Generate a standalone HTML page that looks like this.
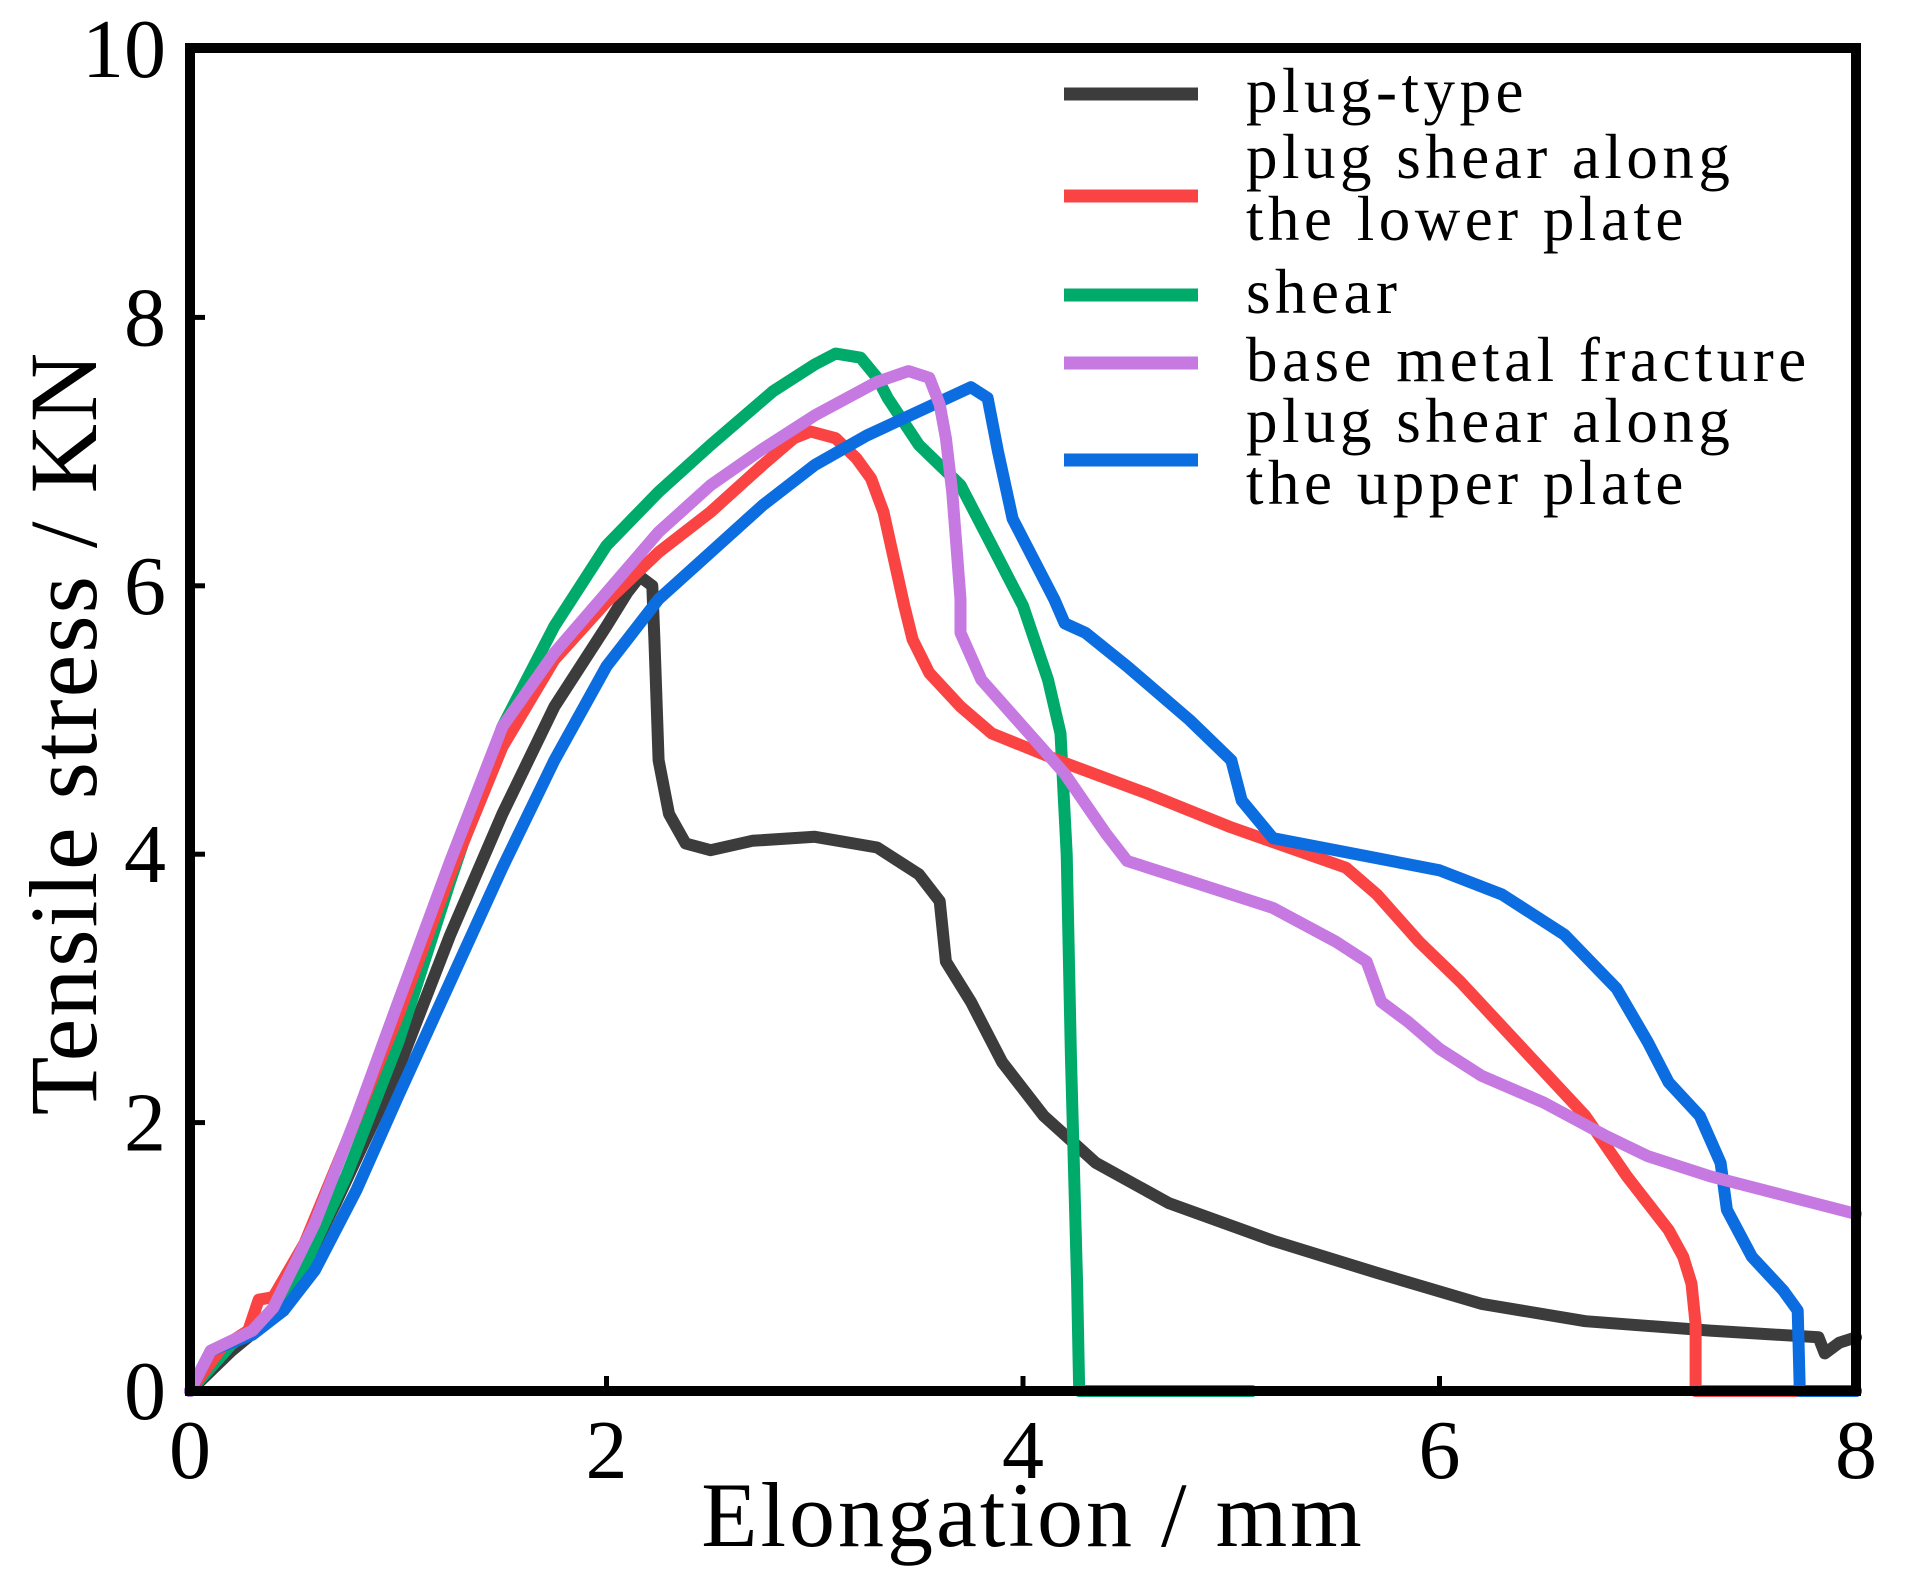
<!DOCTYPE html>
<html><head><meta charset="utf-8"><style>
html,body{margin:0;padding:0;background:#fff;}
svg{display:block;}
text{font-family:"Liberation Serif",serif;fill:#000;}
</style></head><body>
<svg id="chart" width="1907" height="1580" viewBox="0 0 1907 1580" xmlns="http://www.w3.org/2000/svg">
<g id="series"></g>
<rect x="190" y="48" width="1666" height="1343" fill="none" stroke="#000" stroke-width="10"/>
<g id="ticks"></g>
<text x="1033" y="1546" font-size="92" letter-spacing="3" text-anchor="middle">Elongation / mm</text>
<text transform="translate(96,733) rotate(-90)" font-size="96" letter-spacing="2" text-anchor="middle">Tensile stress / KN</text>
<g id="legend"></g>
</svg>
<script>
const xTicks=[0,2,4,6,8];
const yTicks=[0,2,4,6,8,10];
const seriesNames=["plug-type","plug shear along the lower plate","shear","base metal fracture","plug shear along the upper plate"];
const blackX=[0,.2,.45,.7,1.0,1.25,1.5,1.75,2.0,2.1,2.16,2.22,2.23,2.25,2.3,2.38,2.5,2.7,3.0,3.3,3.5,3.6,3.63,3.75,3.9,4.1,4.35,4.7,5.2,5.7,6.2,6.7,7.3,7.82,7.85,7.92,8];
const blackY=[0,.3,.62,1.4,2.4,3.4,4.3,5.1,5.7,5.95,6.07,6.0,5.6,4.7,4.3,4.08,4.03,4.1,4.13,4.05,3.85,3.65,3.2,2.9,2.45,2.05,1.7,1.4,1.12,.88,.65,.52,.45,.4,.28,.36,.4];
const redX=[0,.15,.28,.33,.4,.55,.75,1.0,1.25,1.5,1.75,2.0,2.25,2.5,2.75,2.9,2.98,3.1,3.2,3.27,3.33,3.38,3.43,3.47,3.55,3.7,3.85,4.2,4.6,5.0,5.55,5.7,5.9,6.1,6.4,6.7,6.9,7.1,7.17,7.21,7.23,7.23,8];
const redY=[0,.32,.45,.68,.7,1.1,1.85,2.8,3.85,4.8,5.45,5.88,6.25,6.55,6.9,7.1,7.15,7.1,6.95,6.8,6.55,6.2,5.85,5.6,5.35,5.1,4.9,4.68,4.45,4.2,3.9,3.7,3.35,3.05,2.55,2.05,1.6,1.2,1.0,.8,.5,0,0];
const greenX=[0,.2,.45,.75,1.0,1.25,1.5,1.75,2.0,2.25,2.5,2.8,3.0,3.1,3.22,3.3,3.35,3.5,3.7,3.85,4.0,4.12,4.18,4.21,4.23,4.26,4.27,5.1];
const greenY=[0,.35,.6,1.6,2.6,3.8,4.95,5.7,6.3,6.7,7.05,7.45,7.65,7.73,7.7,7.55,7.4,7.05,6.75,6.3,5.85,5.3,4.9,4.0,2.5,.8,0,0];
const purpleX=[0,.1,.3,.4,.6,.8,1.0,1.25,1.5,1.75,2.0,2.25,2.5,2.75,3.0,3.3,3.45,3.55,3.6,3.63,3.66,3.68,3.7,3.7,3.8,4.0,4.2,4.4,4.5,4.8,5.2,5.5,5.65,5.72,5.85,6.0,6.2,6.5,6.8,7.0,7.3,7.6,8.0];
const purpleY=[0,.3,.45,.62,1.25,2.05,2.9,3.95,4.95,5.5,5.95,6.4,6.75,7.02,7.27,7.52,7.6,7.55,7.35,7.1,6.7,6.3,5.9,5.65,5.3,4.95,4.6,4.15,3.95,3.8,3.6,3.35,3.2,2.9,2.75,2.55,2.35,2.15,1.9,1.75,1.6,1.48,1.32];
const blueX=[0,.1,.3,.45,.6,.8,1.0,1.25,1.5,1.75,2.0,2.25,2.5,2.75,3.0,3.25,3.5,3.75,3.83,3.88,3.95,4.05,4.15,4.2,4.3,4.5,4.8,5.0,5.05,5.2,5.6,6.0,6.3,6.6,6.85,7.0,7.1,7.25,7.35,7.38,7.5,7.65,7.72,7.73,8];
const blueY=[0,.3,.42,.6,.9,1.5,2.2,3.05,3.9,4.7,5.4,5.9,6.25,6.6,6.9,7.12,7.3,7.48,7.4,7.0,6.5,6.2,5.9,5.72,5.65,5.4,5.0,4.7,4.4,4.12,4.0,3.88,3.7,3.4,3.0,2.6,2.3,2.05,1.7,1.35,1.0,.75,.6,0,0];

const NS="http://www.w3.org/2000/svg";
const xS=v=>190+v*208.25;
const yS=v=>1391-v*134.2;
function mk(tag,attrs,parent){const e=document.createElementNS(NS,tag);for(const k in attrs)e.setAttribute(k,attrs[k]);parent.appendChild(e);return e;}
const tg=document.getElementById('ticks');
xTicks.forEach(t=>{
  if(t>0&&t<8){const l=mk('line',{x1:xS(t),x2:xS(t),y1:1391,y2:1376,stroke:'#000','stroke-width':5},tg);
  
  }
  const tx=mk('text',{x:xS(t),y:1478,'font-size':84,'text-anchor':'middle'},tg);tx.textContent=t;
  
  
});
yTicks.forEach(t=>{
  if(t>0&&t<10){const l=mk('line',{x1:190,x2:205,y1:yS(t),y2:yS(t),stroke:'#000','stroke-width':5},tg);
  
  }
  const tx=mk('text',{x:166,y:yS(t)+28,'font-size':84,'text-anchor':'end'},tg);tx.textContent=t;
  
  
});
const sg=document.getElementById('series');
const all=[[blackX,blackY,'#3c3c3c','plug-type-line'],[greenX,greenY,'#00aa6a','shear-line'],[redX,redY,'#fa4444','lower-plate-line'],[blueX,blueY,'#0b6de0','upper-plate-line'],[purpleX,purpleY,'#c679e0','base-metal-line']];
all.forEach(s=>{
  const d=s[0].map((x,i)=>(i?'L':'M')+xS(x).toFixed(1)+' '+yS(s[1][i]).toFixed(1)).join(' ');
  const p=mk('path',{d:d,fill:'none',stroke:s[2],'stroke-width':12,'stroke-linejoin':'round','stroke-linecap':'round'},sg);
  
  
});
const lg=document.getElementById('legend');
const leg=[['#3c3c3c',94,['plug-type'],[112]],['#fa4444',196,['plug shear along','the lower plate'],[178,240]],['#00aa6a',295,['shear'],[313]],['#c679e0',363,['base metal fracture'],[381]],['#0b6de0',460,['plug shear along','the upper plate'],[442,504]]];
leg.forEach(r=>{
  const l=mk('line',{x1:1064,x2:1198,y1:r[1],y2:r[1],stroke:r[0],'stroke-width':13},lg);
  
  
  r[2].forEach((s,i)=>{
    const t=mk('text',{x:1246,y:r[3][i],'font-size':63,'letter-spacing':4.5},lg);t.textContent=s;
    
    
  });
});
</script>
</body></html>
